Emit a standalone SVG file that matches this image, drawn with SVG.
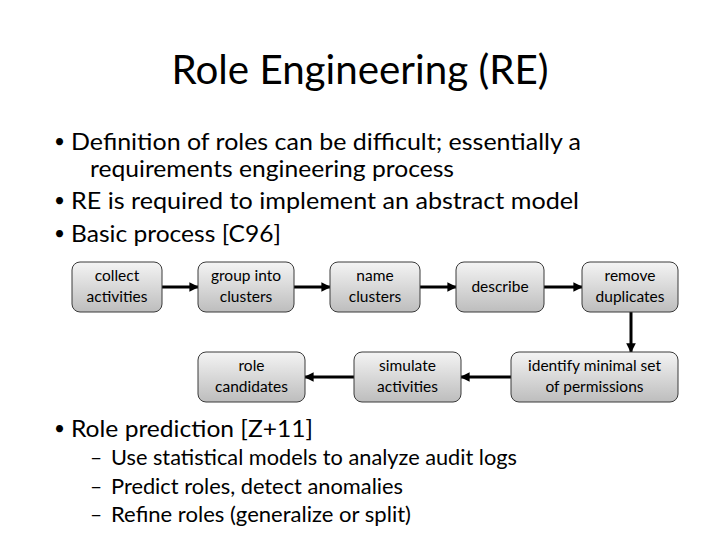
<svg xmlns="http://www.w3.org/2000/svg" width="720" height="540" viewBox="0 0 720 540">
<defs>
<linearGradient id="g" x1="0" y1="0" x2="0" y2="1">
<stop offset="0" stop-color="#f4f4f4"/>
<stop offset="1" stop-color="#bdbdbd"/>
</linearGradient>
<marker id="ah" viewBox="0 0 10 10" refX="9" refY="5" markerWidth="3.2" markerHeight="3.2" orient="auto" markerUnits="strokeWidth">
<path d="M0,0 L10,5 L0,10 z" fill="#000"/>
</marker>
<style>
.t{font-family:Lato,"Open Sans","Liberation Sans",sans-serif;fill:#000}
.title{font-size:41px}
.b{font-size:23px}
.d{font-size:19px}
.s{font-size:21px}
.n rect{fill:url(#g);stroke:#3a3a3a;stroke-width:1}
.n text{font-family:Lato,"Open Sans","Liberation Sans",sans-serif;font-size:15.5px;text-anchor:middle;fill:#000}
.c line{stroke:#000;stroke-width:3;marker-end:url(#ah)}
</style>
</defs>
<rect width="720" height="540" fill="#fff"/>
<text class="t title" x="360" y="84" text-anchor="middle" textLength="377" lengthAdjust="spacingAndGlyphs">Role Engineering (RE)</text>
<g id="bullets">
<text class="t d" x="54" y="148">•</text>
<text class="t b" x="71" y="150" textLength="510" lengthAdjust="spacingAndGlyphs">Definition of roles can be difficult; essentially a</text>
<text class="t b" x="90" y="177" textLength="364" lengthAdjust="spacingAndGlyphs">requirements engineering process</text>
<text class="t d" x="54" y="207">•</text>
<text class="t b" x="71" y="209" textLength="508" lengthAdjust="spacingAndGlyphs">RE is required to implement an abstract model</text>
<text class="t d" x="54" y="240">•</text>
<text class="t b" x="71" y="242" textLength="210" lengthAdjust="spacingAndGlyphs">Basic process [C96]</text>
<text class="t d" x="54" y="435">•</text>
<text class="t b" x="71" y="437" textLength="242" lengthAdjust="spacingAndGlyphs">Role prediction [Z+11]</text>
<text class="t s" x="90" y="465">–</text>
<text class="t s" x="111" y="465" textLength="406" lengthAdjust="spacingAndGlyphs">Use statistical models to analyze audit logs</text>
<text class="t s" x="90" y="494">–</text>
<text class="t s" x="111" y="494" textLength="292" lengthAdjust="spacingAndGlyphs">Predict roles, detect anomalies</text>
<text class="t s" x="90" y="522">–</text>
<text class="t s" x="111" y="522" textLength="300" lengthAdjust="spacingAndGlyphs">Refine roles (generalize or split)</text>
</g>
<g class="c" id="connectors">
<line x1="162" y1="287" x2="198" y2="287"/>
<line x1="294" y1="287" x2="330" y2="287"/>
<line x1="420" y1="287" x2="456" y2="287"/>
<line x1="544" y1="287" x2="582" y2="287"/>
<line x1="631" y1="312" x2="631" y2="352"/>
<line x1="511" y1="377" x2="461" y2="377"/>
<line x1="354" y1="377" x2="305" y2="377"/>
</g>
<g class="n" id="collect"><rect x="72" y="262" width="90" height="50" rx="8"/><text x="117" y="281">collect</text><text x="117" y="302">activities</text></g>
<g class="n" id="group"><rect x="198" y="262" width="96" height="50" rx="8"/><text x="246" y="281">group into</text><text x="246" y="302">clusters</text></g>
<g class="n" id="name"><rect x="330" y="262" width="90" height="50" rx="8"/><text x="375" y="281">name</text><text x="375" y="302">clusters</text></g>
<g class="n" id="describe"><rect x="456" y="262" width="88" height="50" rx="8"/><text x="500" y="292">describe</text></g>
<g class="n" id="remove"><rect x="582" y="262" width="96" height="50" rx="8"/><text x="630" y="281">remove</text><text x="630" y="302">duplicates</text></g>
<g class="n" id="identify"><rect x="511" y="352" width="167" height="50" rx="8"/><text x="594.5" y="371">identify minimal set</text><text x="594.5" y="392">of permissions</text></g>
<g class="n" id="simulate"><rect x="354" y="352" width="107" height="50" rx="8"/><text x="407.5" y="371">simulate</text><text x="407.5" y="392">activities</text></g>
<g class="n" id="role"><rect x="198" y="352" width="107" height="50" rx="8"/><text x="251.5" y="371">role</text><text x="251.5" y="392">candidates</text></g>
</svg>
